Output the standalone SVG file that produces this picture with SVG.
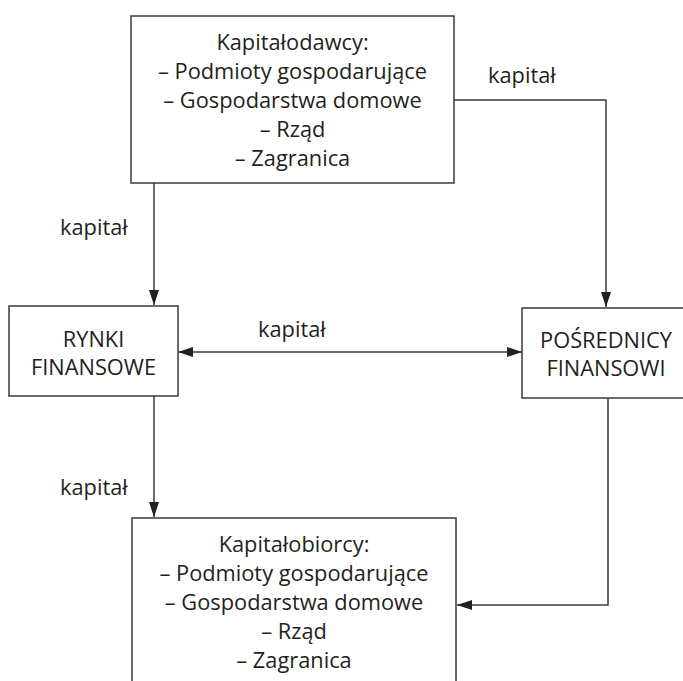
<svg xmlns="http://www.w3.org/2000/svg" width="683" height="681" viewBox="0 0 683 681">
<defs>
<style>
.box{fill:#fff;stroke:#3a3a3a;stroke-width:1.5}
.ln{fill:none;stroke:#3a3a3a;stroke-width:1.5}
text{font-family:"Source Sans Pro","Open Sans","Noto Sans",sans-serif;font-size:21.8px;fill:#231f20}
.c{text-anchor:middle}
</style>
<marker id="ah" viewBox="0 0 15 10" refX="15" refY="5" markerWidth="15" markerHeight="10" markerUnits="userSpaceOnUse" orient="auto-start-reverse">
<path d="M0,0 L15,5 L0,10 Z" fill="#231f20"/>
</marker>
</defs>
<rect width="683" height="681" fill="#fff"/>
<g id="connectors">
<line class="ln" x1="154" y1="183" x2="154" y2="305" marker-end="url(#ah)"/>
<polyline class="ln" points="454,100 606,100 606,307" marker-end="url(#ah)"/>
<line class="ln" x1="178" y1="352" x2="522" y2="352" marker-start="url(#ah)" marker-end="url(#ah)"/>
<line class="ln" x1="154" y1="396" x2="154" y2="517" marker-end="url(#ah)"/>
<polyline class="ln" points="608,398 608,605 457,605" marker-end="url(#ah)"/>
<text x="488" y="83">kapitał</text>
<text x="60" y="235">kapitał</text>
<text x="258" y="337">kapitał</text>
<text x="60" y="495">kapitał</text>
</g>
<g id="kapitalodawcy">
<rect class="box" x="131" y="16" width="323" height="167"/>
<text class="c" x="292.5" y="50">Kapitałodawcy:</text>
<text class="c" x="292.5" y="79">– Podmioty gospodarujące</text>
<text class="c" x="292.5" y="108">– Gospodarstwa domowe</text>
<text class="c" x="292.5" y="137">– Rząd</text>
<text class="c" x="292.5" y="166">– Zagranica</text>
</g>
<g id="rynki">
<rect class="box" x="9" y="306" width="169" height="90"/>
<text class="c" x="93.5" y="347">RYNKI</text>
<text class="c" x="93.5" y="375">FINANSOWE</text>
</g>
<g id="posrednicy">
<rect class="box" x="522" y="308" width="170" height="90"/>
<text class="c" x="606" y="348">POŚREDNICY</text>
<text class="c" x="606" y="376">FINANSOWI</text>
</g>
<g id="kapitalobiorcy">
<rect class="box" x="132" y="518" width="324" height="180"/>
<text class="c" x="294" y="552">Kapitałobiorcy:</text>
<text class="c" x="294" y="581">– Podmioty gospodarujące</text>
<text class="c" x="294" y="610">– Gospodarstwa domowe</text>
<text class="c" x="294" y="639">– Rząd</text>
<text class="c" x="294" y="668">– Zagranica</text>
</g>
</svg>
